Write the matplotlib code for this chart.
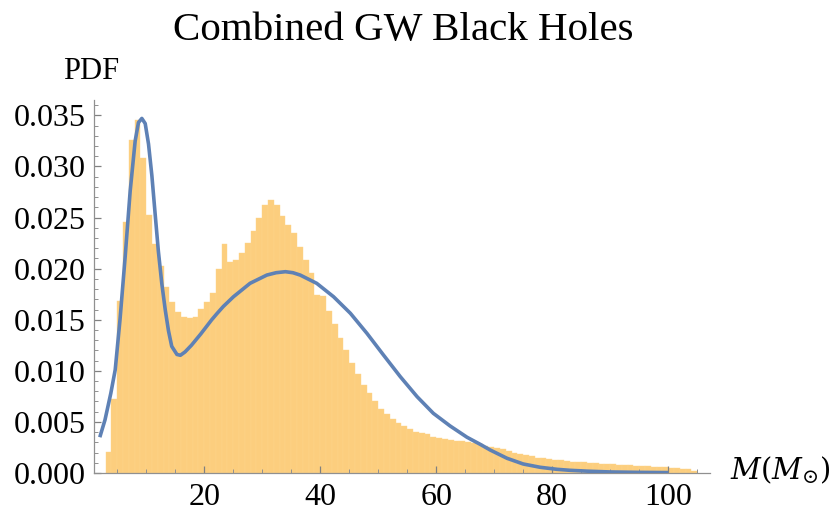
import numpy as np
import matplotlib
matplotlib.use("Agg")
import matplotlib.pyplot as plt
from matplotlib.ticker import MultipleLocator, FormatStrFormatter

# histogram of combined masses, unit-width bins starting at 3 Msun
bin_start = np.arange(3, 105)
bin_pdf = [
    0.00202, 0.00724, 0.01683, 0.02459, 0.03258, 0.03454, 0.03079, 0.02524,
    0.02241, 0.02029, 0.01823, 0.01673, 0.01575, 0.01523, 0.01517, 0.01530,
    0.01603, 0.01670, 0.01760, 0.01996, 0.02238, 0.02068, 0.02084, 0.02156,
    0.02247, 0.02368, 0.02492, 0.02622, 0.02671, 0.02622, 0.02515, 0.02427,
    0.02345, 0.02214, 0.02084, 0.01954, 0.01742, 0.01730, 0.01585, 0.01458,
    0.01324, 0.01204, 0.01079, 0.00969, 0.00861, 0.00780, 0.00708, 0.00626,
    0.00577, 0.00528, 0.00486, 0.00460, 0.00431, 0.00398, 0.00388, 0.00379,
    0.00355, 0.00345, 0.00335, 0.00322, 0.00314, 0.00313, 0.00305, 0.00292,
    0.00281, 0.00268, 0.00258, 0.00248, 0.00232, 0.00214, 0.00200, 0.00186,
    0.00178, 0.00162, 0.00150, 0.00144, 0.00138, 0.00130, 0.00124, 0.00117,
    0.00112, 0.00108, 0.00104, 0.00100, 0.00096, 0.00092, 0.00089, 0.00086,
    0.00082, 0.00079, 0.00076, 0.00072, 0.00068, 0.00065, 0.00062, 0.00058,
    0.00055, 0.00050, 0.00047, 0.00043, 0.00038, 0.00015,
]

# fitted two-component model
curve_m = [2.0, 2.9, 3.9, 4.66, 5.5, 6.38, 7.24, 8.1, 8.67, 9.25, 9.83,
           10.4, 10.98, 11.55, 12.1, 12.7, 13.3, 13.85, 14.4, 15.3, 15.9,
           16.7, 17.8, 19.4, 21.3, 22.2, 23.3, 25.05, 27.9, 30.8, 32.4, 34.0,
           35.3, 36.55, 39.4, 42.3, 45.2, 48.05, 50.9, 53.8, 56.7, 59.5, 62.4,
           65.3, 67.6, 69.3, 72.2, 75.0, 77.9, 80.8, 83.1, 86.0, 90.0, 95.0,
           100.0]
curve_pdf = [0.0035, 0.0052, 0.0078, 0.0101, 0.0151, 0.0212, 0.0276, 0.0325,
             0.0343, 0.0347, 0.0342, 0.0322, 0.0291, 0.0253, 0.0217, 0.0185,
             0.0159, 0.0139, 0.0124, 0.0116, 0.01152, 0.01185, 0.0125, 0.0136,
             0.0150, 0.0156, 0.0163, 0.01725, 0.01856, 0.01937, 0.0196, 0.0197,
             0.0196, 0.01937, 0.01856, 0.01725, 0.01563, 0.01367, 0.01155,
             0.00943, 0.00747, 0.00584, 0.0046, 0.0035, 0.0028, 0.00225,
             0.00144, 0.00088, 0.00056, 0.00036, 0.00026, 0.00018, 0.0001,
             0.00006, 0.00004]

plt.rcParams["font.family"] = "Liberation Serif"
plt.rcParams["mathtext.fontset"] = "dejavuserif"

fig = plt.figure(figsize=(8.31, 5.13), dpi=100)
ax = fig.add_axes([0.1131, 0.078, 0.7413, 0.727])

ax.bar(bin_start, bin_pdf, width=1.0, align="edge", color="#FCCE7E",
       edgecolor="#FCD48C", linewidth=0.3, zorder=1)
ax.plot(curve_m, curve_pdf, color="#5E81B5", lw=2.6, zorder=3,
        solid_joinstyle="round", solid_capstyle="butt")

ax.set_xlim(1.0, 107.2)
ax.set_ylim(0, 0.0365)

for side in ("top", "right"):
    ax.spines[side].set_visible(False)
for side in ("left", "bottom"):
    ax.spines[side].set_color("#909090")
    ax.spines[side].set_linewidth(0.9)

ax.xaxis.set_major_locator(MultipleLocator(20))
ax.xaxis.set_minor_locator(MultipleLocator(5))
ax.yaxis.set_major_locator(MultipleLocator(0.005))
ax.yaxis.set_minor_locator(MultipleLocator(0.001))
ax.yaxis.set_major_formatter(FormatStrFormatter("%.3f"))

ax.tick_params(axis="both", which="major", direction="in", length=5,
               width=0.9, color="#808080", labelsize=23, labelcolor="black")
ax.tick_params(axis="both", which="minor", direction="in", length=3,
               width=0.7, color="#909090")
ax.tick_params(axis="x", which="major", pad=7)
ax.tick_params(axis="y", which="major", pad=6)

fig.text(403 / 831, 1 - 40 / 513, "Combined GW Black Holes", ha="center",
         va="baseline", fontsize=29.5)
fig.text(63 / 831, 1 - 79 / 513, "PDF", ha="left", va="baseline", fontsize=22)
fig.text(730 / 831, 1 - 470 / 513, r"$M(M_{\odot})$", ha="left",
         va="center", fontsize=21)

fig.savefig("out.png", dpi=100)
